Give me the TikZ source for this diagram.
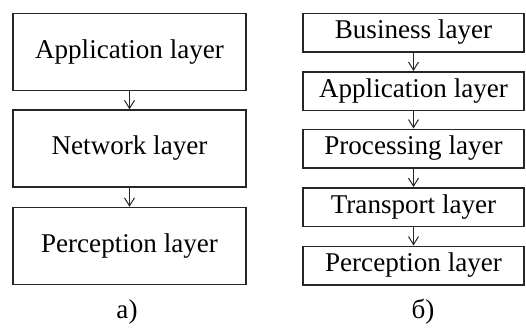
\documentclass[tikz,border=0pt]{standalone}
\usepackage{fontspec}
\setmainfont{Liberation Serif}
\usetikzlibrary{arrows.meta}
\tikzstyle{layer}=[rectangle,fill=white,draw=black!85,line width=1.5bp,inner sep=0pt,font=\fontsize{27.2}{31}\selectfont]
\tikzstyle{biglayer}=[style=layer,minimum width=233bp,minimum height=77bp]
\tikzstyle{smalllayer}=[style=layer,minimum width=221bp,minimum height=38.5bp]
\tikzstyle{flow}=[-{Straight Barb[width=10bp,length=8bp]},draw=black!85,line width=1bp]
\tikzstyle{caption}=[font=\fontsize{27.2}{31}\selectfont]

\begin{document}
\begin{tikzpicture}[x=1bp,y=-1bp]
	\useasboundingbox (0,0) rectangle (526,327);
	% a)
	\node [style=biglayer] (a1) at (129.5, 52) {Application layer};
	\node [style=biglayer] (a2) at (129.5, 148.5) {Network layer};
	\node [style=biglayer] (a3) at (129.5, 246) {Perception layer};
	\node [style=caption] (alabel) at (127, 312) {a)};
	\draw [style=flow] (a1) to (a2);
	\draw [style=flow] (a2) to (a3);
	% б)
	\node [style=smalllayer] (b1) at (413.5, 32.5) {Business layer};
	\node [style=smalllayer] (b2) at (413.5, 91) {Application layer};
	\node [style=smalllayer] (b3) at (413.5, 148.5) {Processing layer};
	\node [style=smalllayer] (b4) at (413.5, 207) {Transport layer};
	\node [style=smalllayer] (b5) at (413.5, 265.5) {Perception layer};
	\node [style=caption] (blabel) at (423, 312) {б)};
	\draw [style=flow] (b1) to (b2);
	\draw [style=flow] (b2) to (b3);
	\draw [style=flow] (b3) to (b4);
	\draw [style=flow] (b4) to (b5);
\end{tikzpicture}
\end{document}
